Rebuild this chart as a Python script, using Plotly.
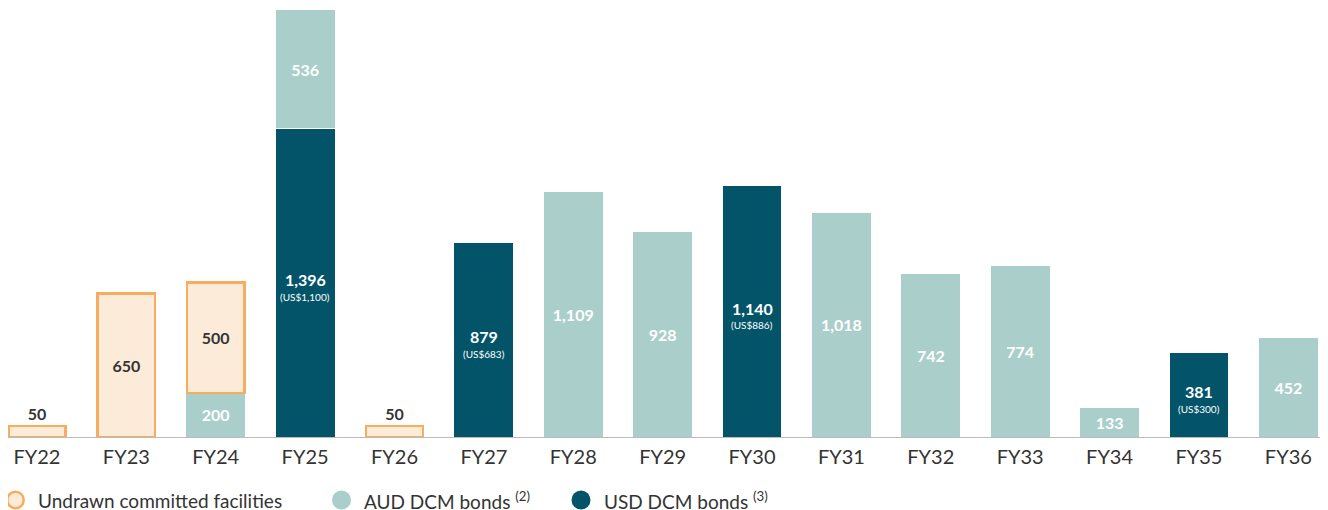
import plotly.graph_objects as go

years = ["FY22", "FY23", "FY24", "FY25", "FY26", "FY27", "FY28", "FY29",
         "FY30", "FY31", "FY32", "FY33", "FY34", "FY35", "FY36"]

undrawn = [50, 650, 500, None, 50, None, None, None, None, None, None, None, None, None, None]
aud_dcm = [None, None, 200, 536, None, None, 1109, 928, None, 1018, 742, 774, 133, None, 452]
usd_dcm = [None, None, None, 1396, None, 879, None, None, 1140, None, None, None, None, 381, None]
usd_face = [None, None, None, "US$1,100", None, "US$683", None, None, "US$886", None, None, None, None, "US$300", None]

ORANGE_FILL = "#FDEBD9"
ORANGE_LINE = "#F6AE5E"
AUD_COL = "#AACFCB"
USD_COL = "#035468"
TXT = "#333333"
FONT = "Lato"


def fmt(v):
    return f"{v:,}"


aud_text = ["" if v is None else f"<b>{fmt(v)}</b>" for v in aud_dcm]
und_text = ["" if v is None else f"<b>{fmt(v)}</b>" for v in undrawn]
und_pos = ["outside" if (v is not None and v < 100) else "inside" for v in undrawn]

fig = go.Figure()
fig.add_trace(go.Bar(
    x=years, y=usd_dcm, name="USD DCM bonds", width=0.67,
    marker=dict(color=USD_COL, line=dict(color="white", width=1)),
))
fig.add_trace(go.Bar(
    x=years, y=aud_dcm, name="AUD DCM bonds", width=0.67,
    marker=dict(color=AUD_COL, line=dict(color="white", width=1)),
    text=aud_text, textposition="inside", insidetextanchor="middle",
    constraintext="none", textfont=dict(color="white", size=16, family=FONT),
))
fig.add_trace(go.Bar(
    x=years, y=undrawn, name="Undrawn committed facilities", width=0.64,
    marker=dict(color=ORANGE_FILL, line=dict(color=ORANGE_LINE, width=2.5)),
    text=und_text, textposition=und_pos, insidetextanchor="middle",
    constraintext="none", cliponaxis=False,
    textfont=dict(color=TXT, size=16, family=FONT),
))

# USD bars: value plus face value in US$ (two lines, tighter than bar text)
for yr, v, f in zip(years, usd_dcm, usd_face):
    if v is None:
        continue
    fig.add_annotation(x=yr, y=v / 2, text=f"<b>{fmt(v)}</b>", showarrow=False,
                       yshift=3, font=dict(color="white", size=16, family=FONT))
    fig.add_annotation(x=yr, y=v / 2, text=f"({f})", showarrow=False,
                       yshift=-14, font=dict(color="white", size=10, family=FONT))

W, H = 1320, 502
MT, MB, ML, MR = 0, 73, 0, 3
fig.update_layout(
    barmode="stack",
    width=W, height=H,
    margin=dict(l=ML, r=MR, t=MT, b=MB),
    paper_bgcolor="white", plot_bgcolor="white",
    showlegend=False,
    font=dict(family=FONT, color=TXT),
    xaxis=dict(range=[-0.324, 14.41], showline=True, linecolor="#BBBBBB", linewidth=1,
               ticks="", ticklabelstandoff=2, tickfont=dict(size=20, color=TXT),
               showgrid=False),
    yaxis=dict(range=[0, 1941], visible=False, showgrid=False, zeroline=False),
)

# manual legend with round markers
legend_items = [
    ("Undrawn committed facilities", ORANGE_FILL, ORANGE_LINE, 7.5, 8.2, 28),
    ("AUD DCM bonds <sup>(2)</sup>", AUD_COL, AUD_COL, 333.5, 9.5, 354),
    ("USD DCM bonds <sup>(3)</sup>", USD_COL, USD_COL, 573, 9.5, 594),
]
plot_w = W - ML - MR
plot_h = H - MT - MB
leg_y = (plot_h - 492) / plot_h
for label, fill, line, cx, r, tx in legend_items:
    xa = (cx - ML) / plot_w
    fig.add_shape(type="circle", xref="paper", yref="paper",
                  xsizemode="pixel", ysizemode="pixel", xanchor=xa, yanchor=leg_y,
                  x0=-r, x1=r, y0=-r, y1=r,
                  fillcolor=fill, line=dict(color=line, width=2.5 if fill != line else 0))
    fig.add_annotation(x=(tx - ML) / plot_w, y=leg_y, xref="paper", yref="paper",
                       text=label, showarrow=False, xanchor="left", yanchor="middle",
                       font=dict(size=19, color=TXT, family=FONT))

fig.write_html("out.html")
